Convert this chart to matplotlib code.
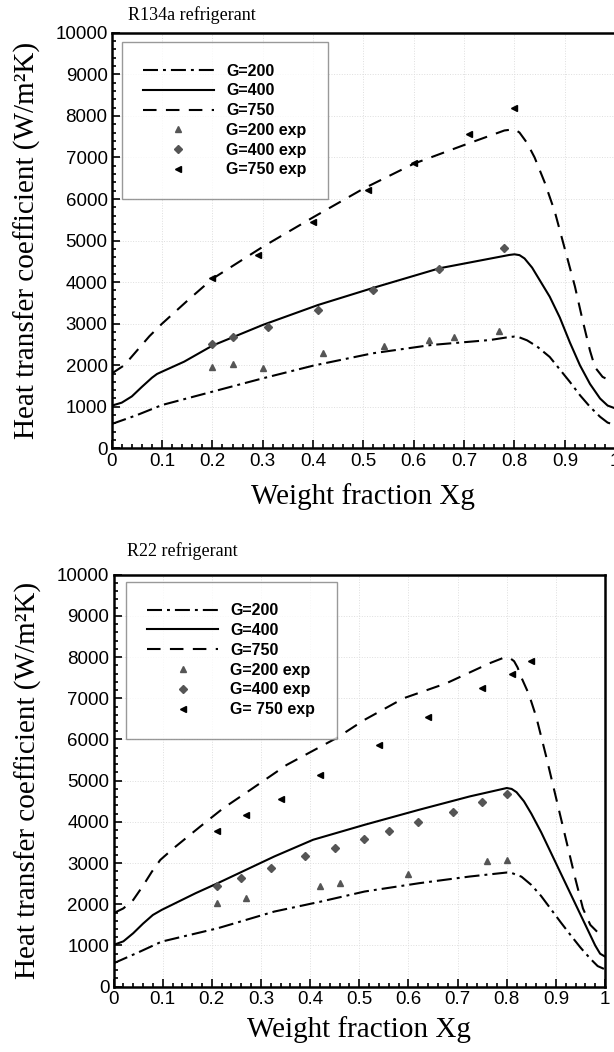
import numpy as np
import matplotlib
matplotlib.use('Agg')
from matplotlib import pyplot as plt
from matplotlib.ticker import MultipleLocator, FuncFormatter

# ---- R134a (top panel) ----
r134_x200 = [0, 0.05, 0.1, 0.2, 0.3, 0.4, 0.518, 0.635, 0.752, 0.79, 0.8, 0.81, 0.825, 0.845, 0.87, 0.89, 0.91, 0.93, 0.95, 0.97, 0.985, 1.0]
r134_y200 = [586, 800, 1043, 1364, 1685, 1990, 2287, 2488, 2608, 2680, 2690, 2670, 2600, 2450, 2200, 1900, 1600, 1280, 1000, 760, 620, 562]
r134_x400 = [0, 0.02, 0.04, 0.06, 0.08, 0.09, 0.1, 0.144, 0.2, 0.3, 0.41, 0.521, 0.651, 0.79, 0.8, 0.81, 0.82, 0.835, 0.85, 0.87, 0.89, 0.91, 0.93, 0.95, 0.97, 0.985, 1.0]
r134_y400 = [1027, 1100, 1250, 1480, 1700, 1790, 1846, 2087, 2472, 2970, 3451, 3868, 4334, 4655, 4670, 4650, 4570, 4350, 4050, 3650, 3150, 2550, 2000, 1550, 1200, 1030, 963]
r134_x750 = [0, 0.025, 0.05, 0.075, 0.1, 0.15, 0.2, 0.3, 0.4, 0.5, 0.6, 0.7, 0.78, 0.8, 0.81, 0.825, 0.84, 0.86, 0.88, 0.9, 0.92, 0.935, 0.95, 0.96, 0.975, 0.99, 1.0]
r134_y750 = [1800, 2000, 2350, 2700, 3000, 3550, 4080, 4850, 5560, 6250, 6850, 7300, 7650, 7680, 7600, 7350, 7000, 6400, 5700, 4800, 3900, 3100, 2350, 1950, 1720, 1630, 1600]

r134_ex200 = [0.20, 0.24, 0.30, 0.42, 0.54, 0.63, 0.68, 0.77]
r134_ey200 = [1966, 2030, 1942, 2303, 2472, 2608, 2689, 2825]
r134_ex400 = [0.20, 0.24, 0.31, 0.41, 0.52, 0.65, 0.78]
r134_ey400 = [2512, 2681, 2929, 3339, 3812, 4318, 4831]
r134_ex750 = [0.20, 0.29, 0.40, 0.51, 0.60, 0.71, 0.80]
r134_ey750 = [4109, 4655, 5449, 6215, 6872, 7555, 8181]

# ---- R22 (bottom panel) ----
r22_x200 = [0, 0.05, 0.098, 0.212, 0.327, 0.422, 0.511, 0.622, 0.725, 0.8, 0.81, 0.83, 0.85, 0.87, 0.89, 0.91, 0.93, 0.95, 0.97, 0.985, 1.0]
r22_y200 = [567, 830, 1094, 1418, 1823, 2066, 2310, 2512, 2674, 2771, 2760, 2670, 2470, 2200, 1880, 1560, 1250, 950, 680, 500, 420]
r22_x400 = [0, 0.02, 0.04, 0.06, 0.08, 0.098, 0.167, 0.212, 0.327, 0.406, 0.511, 0.622, 0.725, 0.8, 0.81, 0.82, 0.835, 0.85, 0.87, 0.89, 0.91, 0.93, 0.95, 0.97, 0.98, 0.99, 1.0]
r22_y400 = [1013, 1100, 1297, 1530, 1740, 1864, 2269, 2512, 3160, 3566, 3930, 4295, 4619, 4822, 4800, 4720, 4500, 4200, 3750, 3250, 2750, 2250, 1750, 1250, 1000, 800, 730]
r22_x750 = [0, 0.02, 0.04, 0.06, 0.078, 0.095, 0.122, 0.176, 0.223, 0.278, 0.352, 0.454, 0.51, 0.59, 0.677, 0.765, 0.78, 0.795, 0.805, 0.815, 0.822, 0.83, 0.845, 0.86, 0.88, 0.9, 0.92, 0.94, 0.955, 0.97, 0.985, 1.0]
r22_y750 = [1783, 1900, 2104, 2450, 2791, 3075, 3359, 3883, 4330, 4774, 5381, 6037, 6473, 7000, 7364, 7850, 7920, 7990, 7990, 7900, 7750, 7500, 7100, 6550, 5600, 4600, 3600, 2600, 1900, 1500, 1320, 1215]

r22_ex200 = [0.21, 0.27, 0.42, 0.46, 0.60, 0.76, 0.80]
r22_ey200 = [2042, 2164, 2447, 2512, 2731, 3039, 3079]
r22_ex400 = [0.21, 0.26, 0.32, 0.39, 0.45, 0.51, 0.56, 0.62, 0.69, 0.75, 0.80]
r22_ey400 = [2455, 2634, 2877, 3160, 3355, 3590, 3784, 3995, 4246, 4489, 4684]
r22_ex750 = [0.21, 0.27, 0.34, 0.42, 0.54, 0.64, 0.75, 0.81, 0.85]
r22_ey750 = [3768, 4157, 4562, 5146, 5875, 6553, 7255, 7600, 7900]

labels_top = ['G=200', 'G=400', 'G=750', 'G=200 exp', 'G=400 exp', 'G=750 exp']
labels_bot = ['G=200', 'G=400', 'G=750', 'G=200 exp', 'G=400 exp', 'G= 750 exp']

SERIF = ['Liberation Serif', 'DejaVu Serif']
SANS = ['Liberation Sans', 'DejaVu Sans']

fig = plt.figure(figsize=(6.14, 10.52), dpi=100)
ax1 = fig.add_axes([0.1819, 0.5738, 0.8200, 0.3950])
ax2 = fig.add_axes([0.1849, 0.0621, 0.8005, 0.3916])


def draw(ax, lines, pts, labels, title, tx, ty, labcoord, xpad, leg_anchor):
    (x2, y2), (x4, y4), (x7, y7) = lines
    ax.plot(x2, y2, color='black', lw=1.5, dashes=(7.2, 2.4, 1.4, 2.4), label=labels[0])
    ax.plot(x4, y4, color='black', lw=1.5, label=labels[1])
    ax.plot(x7, y7, color='black', lw=1.5, dashes=(6.5, 4.5), label=labels[2])
    (ex2, ey2), (ex4, ey4), (ex7, ey7) = pts
    ax.plot(ex2, ey2, ls='none', marker='^', ms=5, color='#555555', mec='#555555', label=labels[3])
    ax.plot(ex4, ey4, ls='none', marker='D', ms=4.2, color='#555555', mec='#555555', label=labels[4])
    ax.plot(ex7, ey7, ls='none', marker='<', ms=5, color='black', label=labels[5])

    ax.set_xlim(0, 1)
    ax.set_ylim(0, 10000)
    ax.xaxis.set_major_locator(MultipleLocator(0.1))
    ax.xaxis.set_minor_locator(MultipleLocator(0.02))
    ax.yaxis.set_major_locator(MultipleLocator(1000))
    ax.yaxis.set_minor_locator(MultipleLocator(200))
    ax.xaxis.set_major_formatter(FuncFormatter(lambda v, p: '%g' % round(v, 2)))
    ax.yaxis.set_major_formatter(FuncFormatter(lambda v, p: '%d' % v))
    ax.tick_params(which='both', direction='in', top=False, right=False, width=1.2)
    ax.tick_params(which='major', length=5.5, labelsize=13.5, pad=3)
    ax.tick_params(which='minor', length=3)
    for t in ax.get_xticklabels() + ax.get_yticklabels():
        t.set_family(SANS)
    ax.grid(True, which='major', color='#dedede', ls=':', lw=0.7)
    for s in ax.spines.values():
        s.set_linewidth(1.8)

    ax.set_xlabel('Weight fraction Xg', family=SERIF, fontsize=21, labelpad=xpad)
    ax.set_ylabel('Heat transfer coefficient (W/m²K)', family=SERIF, fontsize=21)
    ax.yaxis.set_label_coords(labcoord, 0.5)
    ax.text(tx, ty, title, transform=ax.transAxes, family=SERIF, fontsize=13,
            ha='left', va='baseline')

    leg = ax.legend(loc='upper left', bbox_to_anchor=leg_anchor, borderaxespad=0,
                    frameon=True, fancybox=False, edgecolor='#808080',
                    handlelength=4.4, handletextpad=0.8, borderpad=1.35,
                    labelspacing=0.3, numpoints=1,
                    prop={'family': SANS, 'weight': 'bold', 'size': 11.5})
    leg.get_frame().set_linewidth(1.0)


draw(ax1,
     [(r134_x200, r134_y200), (r134_x400, r134_y400), (r134_x750, r134_y750)],
     [(r134_ex200, r134_ey200), (r134_ex400, r134_ey400), (r134_ex750, r134_ey750)],
     labels_top, 'R134a refrigerant', 0.032, 1.031, -0.14, 10, (0.02, 0.978))
draw(ax2,
     [(r22_x200, r22_y200), (r22_x400, r22_y400), (r22_x750, r22_y750)],
     [(r22_ex200, r22_ey200), (r22_ex400, r22_ey400), (r22_ex750, r22_ey750)],
     labels_bot, 'R22 refrigerant', 0.027, 1.045, -0.145, 6, (0.025, 0.983))

fig.savefig('out.png', dpi=100)
